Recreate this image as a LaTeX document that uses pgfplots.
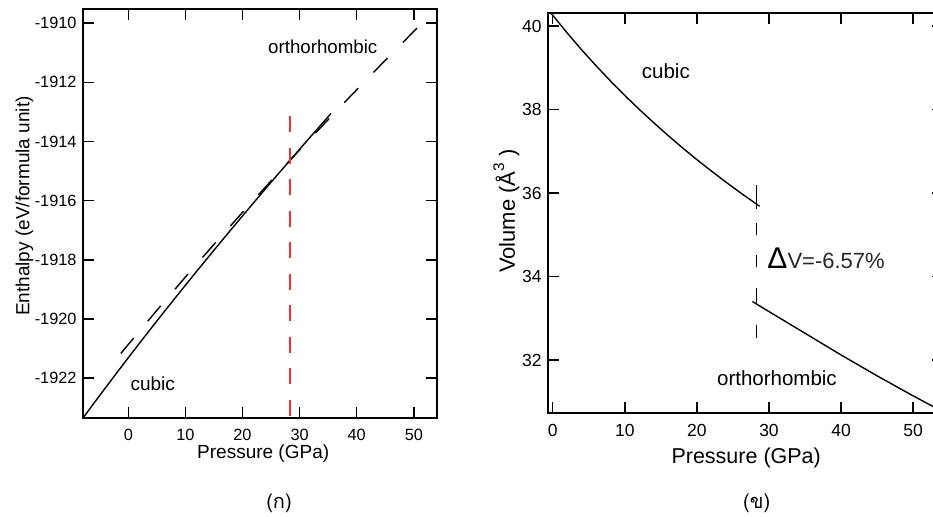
\documentclass[border=0pt]{standalone}
\usepackage{pgfplots}
\pgfplotsset{compat=1.18}
\usepackage{fontspec}
\setmainfont{Liberation Sans}
\newfontfamily\thaifont[Script=Thai]{Loma}
\definecolor{myred}{RGB}{240,50,50}

\pgfplotstableread{
P H
-8 -1923.370
-6 -1922.846
-4 -1922.329
-2 -1921.818
0 -1921.312
2 -1920.812
4 -1920.317
6 -1919.827
8 -1919.342
10 -1918.862
12 -1918.385
14 -1917.913
16 -1917.444
18 -1916.979
20 -1916.518
22 -1916.061
24 -1915.606
26 -1915.155
28 -1914.707
30 -1914.262
32 -1913.820
34 -1913.381
35.5 -1913.053
}\Hcubic

\pgfplotstableread{
P H
-1.3 -1921.167
0 -1920.863
5 -1919.711
10 -1918.584
15 -1917.480
20 -1916.397
25 -1915.333
28.3 -1914.640
30 -1914.287
32.5 -1913.772
35 -1913.261
37.5 -1912.753
40 -1912.250
42.5 -1911.751
45 -1911.256
47.5 -1910.764
50 -1910.277
52.7 -1909.754
}\Hortho

\pgfplotstableread{
P V
-0.6 40.39
0 40.26
2 39.836
4 39.433
6 39.051
8 38.686
10 38.337
12 38.004
14 37.685
16 37.378
18 37.083
20 36.800
22 36.528
24 36.265
26 36.011
28 35.767
28.7 35.683
}\Vcubic

\pgfplotstableread{
P V
27.7 33.40
30 33.16
32.5 32.90
35 32.64
37.5 32.38
40 32.12
42.5 31.87
45 31.62
47.5 31.38
50 31.14
52.5 30.91
54.2 30.76
}\Vortho

\begin{document}
\begin{tikzpicture}[x=1pt,y=1pt]
\pgfplotsset{
  mystyle/.style={
    scale only axis,
    tick align=inside,
    xtick pos=both, ytick pos=both,
    xticklabel pos=lower, yticklabel pos=left,
    major tick length=11pt,
    major tick style={black, line width=1.5pt},
    axis line style={line width=1.8pt},
    /pgf/number format/assume math mode=true,
    /pgf/number format/1000 sep={},
    clip=true,
  }
}
% ---------- left panel ----------
\begin{axis}[mystyle,
  at={(83pt,98pt)}, anchor=south west,
  width=354pt, height=409pt,
  xmin=-7.93, xmax=54.06, ymin=-1923.35, ymax=-1909.52,
  xtick={0,10,20,30,40,50},
  ytick={-1922,-1920,-1918,-1916,-1914,-1912,-1910},
  xticklabel style={font=\fontsize{16.3}{19}\selectfont, anchor=base, yshift=-23pt, inner sep=0pt},
  yticklabel style={font=\fontsize{16.3}{19}\selectfont, anchor=east, xshift=-6.3pt, inner sep=0pt},
  every axis x label/.style={at={(axis description cs:0.509,0)}, anchor=base, yshift=-40.6pt, font=\fontsize{19}{22}\selectfont},
  every axis y label/.style={at={(axis description cs:-0.1517,0.518)}, rotate=90, anchor=base, font=\fontsize{19}{22}\selectfont},
  xlabel={Pressure (GPa)},
  ylabel={Enthalpy (eV/formula unit)},
]
\addplot[black, line width=1.4pt] table[x=P,y=H] {\Hcubic};
\addplot[black, line width=1.4pt, dash pattern=on 20pt off 22pt] table[x=P,y=H] {\Hortho};
\addplot[myred, line width=1.8pt, dash pattern=on 16pt off 15.5pt] coordinates {(28.3,-1913.14) (28.3,-1923.4)};
\node[anchor=base, font=\fontsize{18.7}{22}\selectfont, inner sep=0pt] at (axis cs:34.06,-1911.02) {orthorhombic};
\node[anchor=base, font=\fontsize{19}{22}\selectfont, inner sep=0pt] at (axis cs:4.29,-1922.42) {cubic};
\end{axis}
% ---------- right panel ----------
\begin{axis}[mystyle,
  at={(548.3pt,103.3pt)}, anchor=south west,
  width=394.7pt, height=399.4pt,
  xmin=-0.6, xmax=54.13, ymin=30.738, ymax=40.304,
  xtick={0,10,20,30,40,50},
  ytick={32,34,36,38,40},
  xticklabel style={font=\fontsize{17.5}{20}\selectfont, anchor=base, yshift=-24pt, inner sep=0pt},
  yticklabel style={font=\fontsize{17.5}{20}\selectfont, anchor=east, xshift=-6.6pt, inner sep=0pt},
  every axis x label/.style={at={(axis description cs:0.5014,0)}, anchor=base, yshift=-50.6pt, font=\fontsize{21.5}{25}\selectfont},
  every axis y label/.style={at={(axis description cs:-0.0844,0.505)}, rotate=90, anchor=base, font=\fontsize{22}{25}\selectfont},
  xlabel={Pressure (GPa)},
  ylabel={Volume (Å\raisebox{0.15em}{\textsuperscript{3}} )},
]
\addplot[black, line width=1.4pt] table[x=P,y=V] {\Vcubic};
\addplot[black, line width=1.4pt] table[x=P,y=V] {\Vortho};
\addplot[black, line width=1.4pt, dash pattern=on 24.3pt off 14pt on 11.7pt off 20pt on 11.7pt off 21.6pt on 14.3pt off 22.3pt on 13.3pt off 40pt] coordinates {(28.3,36.19) (28.3,32.53)};
\node[anchor=base, font=\fontsize{20.5}{24}\selectfont, inner sep=0pt] at (axis cs:15.7,38.75) {cubic};
\node[anchor=base, font=\fontsize{20.5}{24}\selectfont, inner sep=0pt] at (axis cs:31.1,31.40) {orthorhombic};
\node[anchor=base west, inner sep=0pt] at (axis cs:29.76,34.20) {{\fontsize{30}{32}\selectfont Δ}{\fontsize{22}{26}\selectfont\color{black!85}V=-6.57\%}};
\end{axis}
% ---------- captions ----------
\node[font=\thaifont\fontsize{20}{23}\selectfont] at (279,12.5) {(ก)};
\node[font=\thaifont\fontsize{20}{23}\selectfont] at (756.7,12.5) {(ข)};
\pgfresetboundingbox
\path[use as bounding box] (0,0) rectangle (933,516);
\end{tikzpicture}
\end{document}
